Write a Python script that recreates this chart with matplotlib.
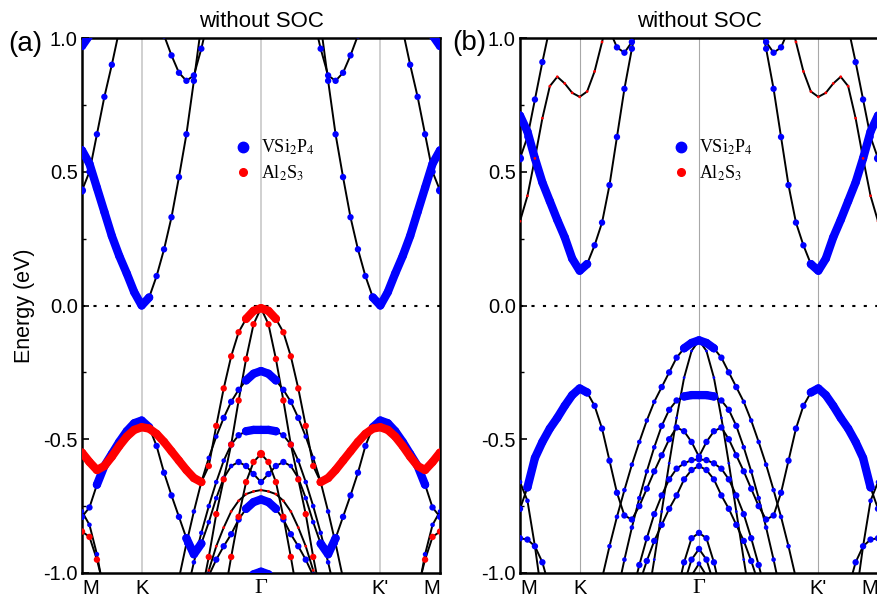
import numpy as np
import matplotlib.pyplot as plt
from matplotlib.lines import Line2D
from matplotlib.ticker import MultipleLocator

plt.rcParams['font.family'] = ['Liberation Sans', 'DejaVu Sans']
plt.rcParams['mathtext.fontset'] = 'stix'
plt.rcParams['axes.unicode_minus'] = False

nan = float('nan')

# high-symmetry points along M-K-G-K'-M, in units of |MK|
kpath = [0, 1, 3, 5, 6]
klabels = ['M', 'K', 'Γ', "K'", 'M']

# band energies (eV) on M -> K -> G, every 1/8 |MK| (25 points);
# G -> K' -> M is the mirror image.  *_w = projection weight level (0-4)

# ---- panel (a) ----
a_c1 = [0.58, 0.53, 0.44, 0.35, 0.26, 0.185, 0.12, 0.05, 0.0, 0.03, 0.11, 0.21, 0.33, 0.48, 0.64, 0.84, 1.05] + [nan]*8
a_c1_w = [4]*10 + [3]*15
a_c2 = [0.43, 0.50, 0.64, 0.78, 0.90, 1.03] + [nan]*19
a_c2_w = [4] + [3]*24
a_c3 = [0.97, 1.01, 1.10] + [nan]*22
a_c3_w = [4]*25
a_c4 = [nan]*10 + [1.09, 1.01, 0.935, 0.87, 0.84, 0.86, 0.96, 1.08] + [nan]*7
a_c4_w = [3]*25

a_v1 = [nan]*13 + [-1.02, -0.89, -0.77, -0.66, -0.57, -0.49, -0.42, -0.36, -0.315, -0.28, -0.255, -0.245]
a_v1_w = [2]*19 + [3]*3 + [4]*3
a_v2 = [-0.79, -0.755, -0.67, -0.60, -0.555, -0.51, -0.47, -0.44, -0.43, -0.455, -0.525, -0.625, -0.71,
        -0.79, -0.87, -0.93, -0.89, -0.81, -0.72, -0.645, -0.60, -0.585, -0.60, -0.63, -0.66]
a_v2_w = [3]*2 + [4]*8 + [3]*4 + [4]*3 + [2]*4 + [3]*4
a_v3 = [nan]*14 + [-1.08, -0.96, -0.85, -0.75, -0.66, -0.58, -0.52, -0.485, -0.47, -0.465, -0.465]
a_v3_w = [2]*20 + [3]*2 + [4]*3
a_v4 = [nan]*16 + [-1.08, -1.01, -0.95, -0.90, -0.855, -0.80, -0.76, -0.735, -0.725]
a_v4_w = [3]*22 + [4]*3
a_v5 = [nan]*22 + [-1.04, -1.005, -0.995]
a_v5_w = [4]*25
a_v6 = [-0.77, -0.82, -0.93, -1.08] + [nan]*21
a_v6_w = [2]*25

a_r1 = [-0.55, -0.585, -0.615, -0.60, -0.565, -0.525, -0.49, -0.465, -0.455, -0.46, -0.48, -0.51, -0.545,
        -0.58, -0.615, -0.645, -0.66, -0.60, -0.45, -0.31, -0.19, -0.10, -0.05, -0.02, -0.01]
a_r1_w = [4]*17 + [3]*5 + [4]*3
a_r2 = [nan]*16 + [-1.08, -0.94, -0.78, -0.65, -0.52, -0.355, -0.20, -0.07, -0.01]
a_r2_w = [3]*25
a_r3 = [nan]*19 + [-1.10, -0.94, -0.79, -0.66, -0.585, -0.555]
a_r3_w = [3]*24 + [4]
a_r4 = [nan]*16 + [-1.09, -0.99, -0.90, -0.83, -0.77, -0.73, -0.705, -0.695, -0.69]
a_r4_w = [1]*25
a_r5 = [-0.845, -0.865, -0.95, -1.06] + [nan]*21
a_r5_w = [3]*25

# ---- panel (b) ----
b_c1 = [0.71, 0.65, 0.55, 0.46, 0.39, 0.32, 0.255, 0.175, 0.13, 0.155, 0.225, 0.31, 0.45, 0.63, 0.81, 0.96, 1.10] + [nan]*8
b_c1_w = [4]*10 + [3]*15
b_c2 = [0.55, 0.63, 0.77, 0.91, 1.04] + [nan]*20
b_c2_w = [4] + [3]*24
b_c3 = [nan]*12 + [1.03, 0.965, 0.945, 0.985, 1.07] + [nan]*8
b_c3_w = [3]*25

b_v1 = [nan]*11 + [-1.02, -0.90, -0.79, -0.69, -0.595, -0.51, -0.43, -0.36, -0.305, -0.25, -0.195, -0.16, -0.14, -0.13]
b_v1_w = [2]*19 + [3]*3 + [4]*3
b_v2 = [-0.76, -0.68, -0.57, -0.51, -0.46, -0.42, -0.375, -0.335, -0.31, -0.325, -0.375, -0.46, -0.58,
        -0.70, -0.785, -0.80, -0.75, -0.685, -0.62, -0.56, -0.50, -0.456, -0.47, -0.51, -0.565]
b_v2_w = [3] + [4]*9 + [3]*15
b_v3 = [nan]*13 + [-1.08, -0.95, -0.83, -0.72, -0.62, -0.53, -0.45, -0.39, -0.355, -0.34, -0.335, -0.335]
b_v3_w = [2]*19 + [3]*3 + [4]*3
b_v4 = [nan]*15 + [-1.08, -0.97, -0.87, -0.78, -0.71, -0.65, -0.61, -0.59, -0.578, -0.575]
b_v4_w = [3]*25
b_v5 = [nan]*16 + [-1.04, -0.955, -0.88, -0.82, -0.76, -0.71, -0.65, -0.615, -0.60]
b_v5_w = [3]*25
b_v6 = [nan]*17 + [-1.12, -0.95, -0.77, -0.59, -0.42, -0.27, -0.17, -0.13]
b_v6_w = [1]*25
b_v7 = [nan]*21 + [-1.08, -0.96, -0.87, -0.85]
b_v7_w = [3]*25
b_v8 = [nan]*22 + [-1.04, -0.95, -0.91]
b_v8_w = [3]*25
b_v9 = [nan]*23 + [-1.01, -0.965]
b_v9_w = [2]*25
b_v10 = [-0.87, -0.875, -0.90, -0.96, -1.06] + [nan]*20
b_v10_w = [3]*25
b_v11 = [-0.66, -0.73, -0.90, -1.10] + [nan]*21
b_v11_w = [2]*25

b_r1 = [0.315, 0.41, 0.55, 0.70, 0.82, 0.855, 0.83, 0.795, 0.78, 0.80, 0.875, 0.985, 1.10] + [nan]*12
b_r1_w = [1]*25

BLUE, RED = '#0000ff', '#ff0000'
bands_a = [(a_c1, a_c1_w, BLUE), (a_c2, a_c2_w, BLUE), (a_c3, a_c3_w, BLUE), (a_c4, a_c4_w, BLUE),
           (a_v1, a_v1_w, BLUE), (a_v2, a_v2_w, BLUE), (a_v3, a_v3_w, BLUE), (a_v4, a_v4_w, BLUE),
           (a_v5, a_v5_w, BLUE), (a_v6, a_v6_w, BLUE),
           (a_r1, a_r1_w, RED), (a_r2, a_r2_w, RED), (a_r3, a_r3_w, RED), (a_r4, a_r4_w, RED),
           (a_r5, a_r5_w, RED)]
bands_b = [(b_c1, b_c1_w, BLUE), (b_c2, b_c2_w, BLUE), (b_c3, b_c3_w, BLUE),
           (b_v1, b_v1_w, BLUE), (b_v2, b_v2_w, BLUE), (b_v3, b_v3_w, BLUE), (b_v4, b_v4_w, BLUE),
           (b_v5, b_v5_w, BLUE), (b_v6, b_v6_w, BLUE), (b_v7, b_v7_w, BLUE), (b_v8, b_v8_w, BLUE),
           (b_v9, b_v9_w, BLUE), (b_v10, b_v10_w, BLUE), (b_v11, b_v11_w, BLUE),
           (b_r1, b_r1_w, RED)]

k = np.linspace(kpath[0], kpath[-1], 49)
dot_size = np.array([0, 4, 11, 21, 34])


def mirror(half):
    h = np.asarray(half, dtype=float)
    return np.concatenate([h, h[-2::-1]])


def draw_panel(ax, bands, grid_color, grid_lw):
    for x in kpath[1:-1]:
        ax.axvline(x, color=grid_color, lw=grid_lw, zorder=1)
    ax.axhline(0, color='black', lw=1.5, ls=(0, (1.5, 4)), zorder=1)
    for e, w, c in bands:
        ax.plot(k, mirror(e), color='black', lw=1.4, zorder=2)
    for e, w, c in bands:
        e = mirror(e)
        w = mirror(w).astype(int)
        z = 4 if c == RED else 3
        heavy = np.where(w >= 4, e, np.nan)
        ax.plot(k, heavy, color=c, lw=6, solid_capstyle='round', zorder=z)
        ax.scatter(k, e, s=dot_size[w], color=c, linewidths=0, zorder=z)

    ax.set_xlim(kpath[0], kpath[-1])
    ax.set_ylim(-1.0, 1.0)
    ax.set_yticks([-1.0, -0.5, 0.0, 0.5, 1.0])
    ax.set_yticklabels(['-1.0', '-0.5', '0.0', '0.5', '1.0'])
    ax.yaxis.set_minor_locator(MultipleLocator(0.25))
    ax.tick_params(axis='y', which='major', direction='in', length=5, width=1.2, labelsize=14.5, pad=3)
    ax.tick_params(axis='y', which='minor', direction='in', length=3, width=1.0)
    ax.set_xticks(kpath)
    ax.set_xticklabels(klabels)
    ax.tick_params(axis='x', length=0, labelsize=14.5, pad=4)
    tl = ax.get_xticklabels()
    tl[0].set_ha('left')
    tl[-1].set_ha('right')
    tl[2].set_fontfamily('Liberation Serif')
    tl[2].set_fontsize(16)
    for s in ax.spines.values():
        s.set_linewidth(1.8)
    ax.set_title('without SOC', fontsize=16, pad=8)

    handles = [Line2D([], [], ls='none', marker='o', color=BLUE, markersize=7.5),
               Line2D([], [], ls='none', marker='o', color=RED, markersize=5.5)]
    ax.legend(handles, [r'VSi$_2$P$_4$', r'Al$_2$S$_3$'], loc='upper left',
              bbox_to_anchor=(0.40, 0.83), frameon=False, borderpad=0, handlelength=1.0,
              handletextpad=0.5, labelspacing=0.35, prop={'family': 'Liberation Serif', 'size': 13})


fig = plt.figure(figsize=(8.78, 6.03), dpi=100)
ax_a = fig.add_axes([82/878, 30/603, 358/878, 535/603])
ax_b = fig.add_axes([520/878, 30/603, 358/878, 535/603])

draw_panel(ax_a, bands_a, '#c8c8c8', 1.2)
draw_panel(ax_b, bands_b, '#a8a8a8', 0.8)
ax_b.spines['right'].set_visible(False)

ax_a.set_ylabel('Energy (eV)', fontsize=15.5)
ax_a.yaxis.set_label_coords(-0.13, 0.5)

fig.text(8/878, 1 - 44/603, '(a)', fontsize=20, va='center', ha='left')
fig.text(452/878, 1 - 43/603, '(b)', fontsize=20, va='center', ha='left')

fig.savefig('out.png', dpi=100)
